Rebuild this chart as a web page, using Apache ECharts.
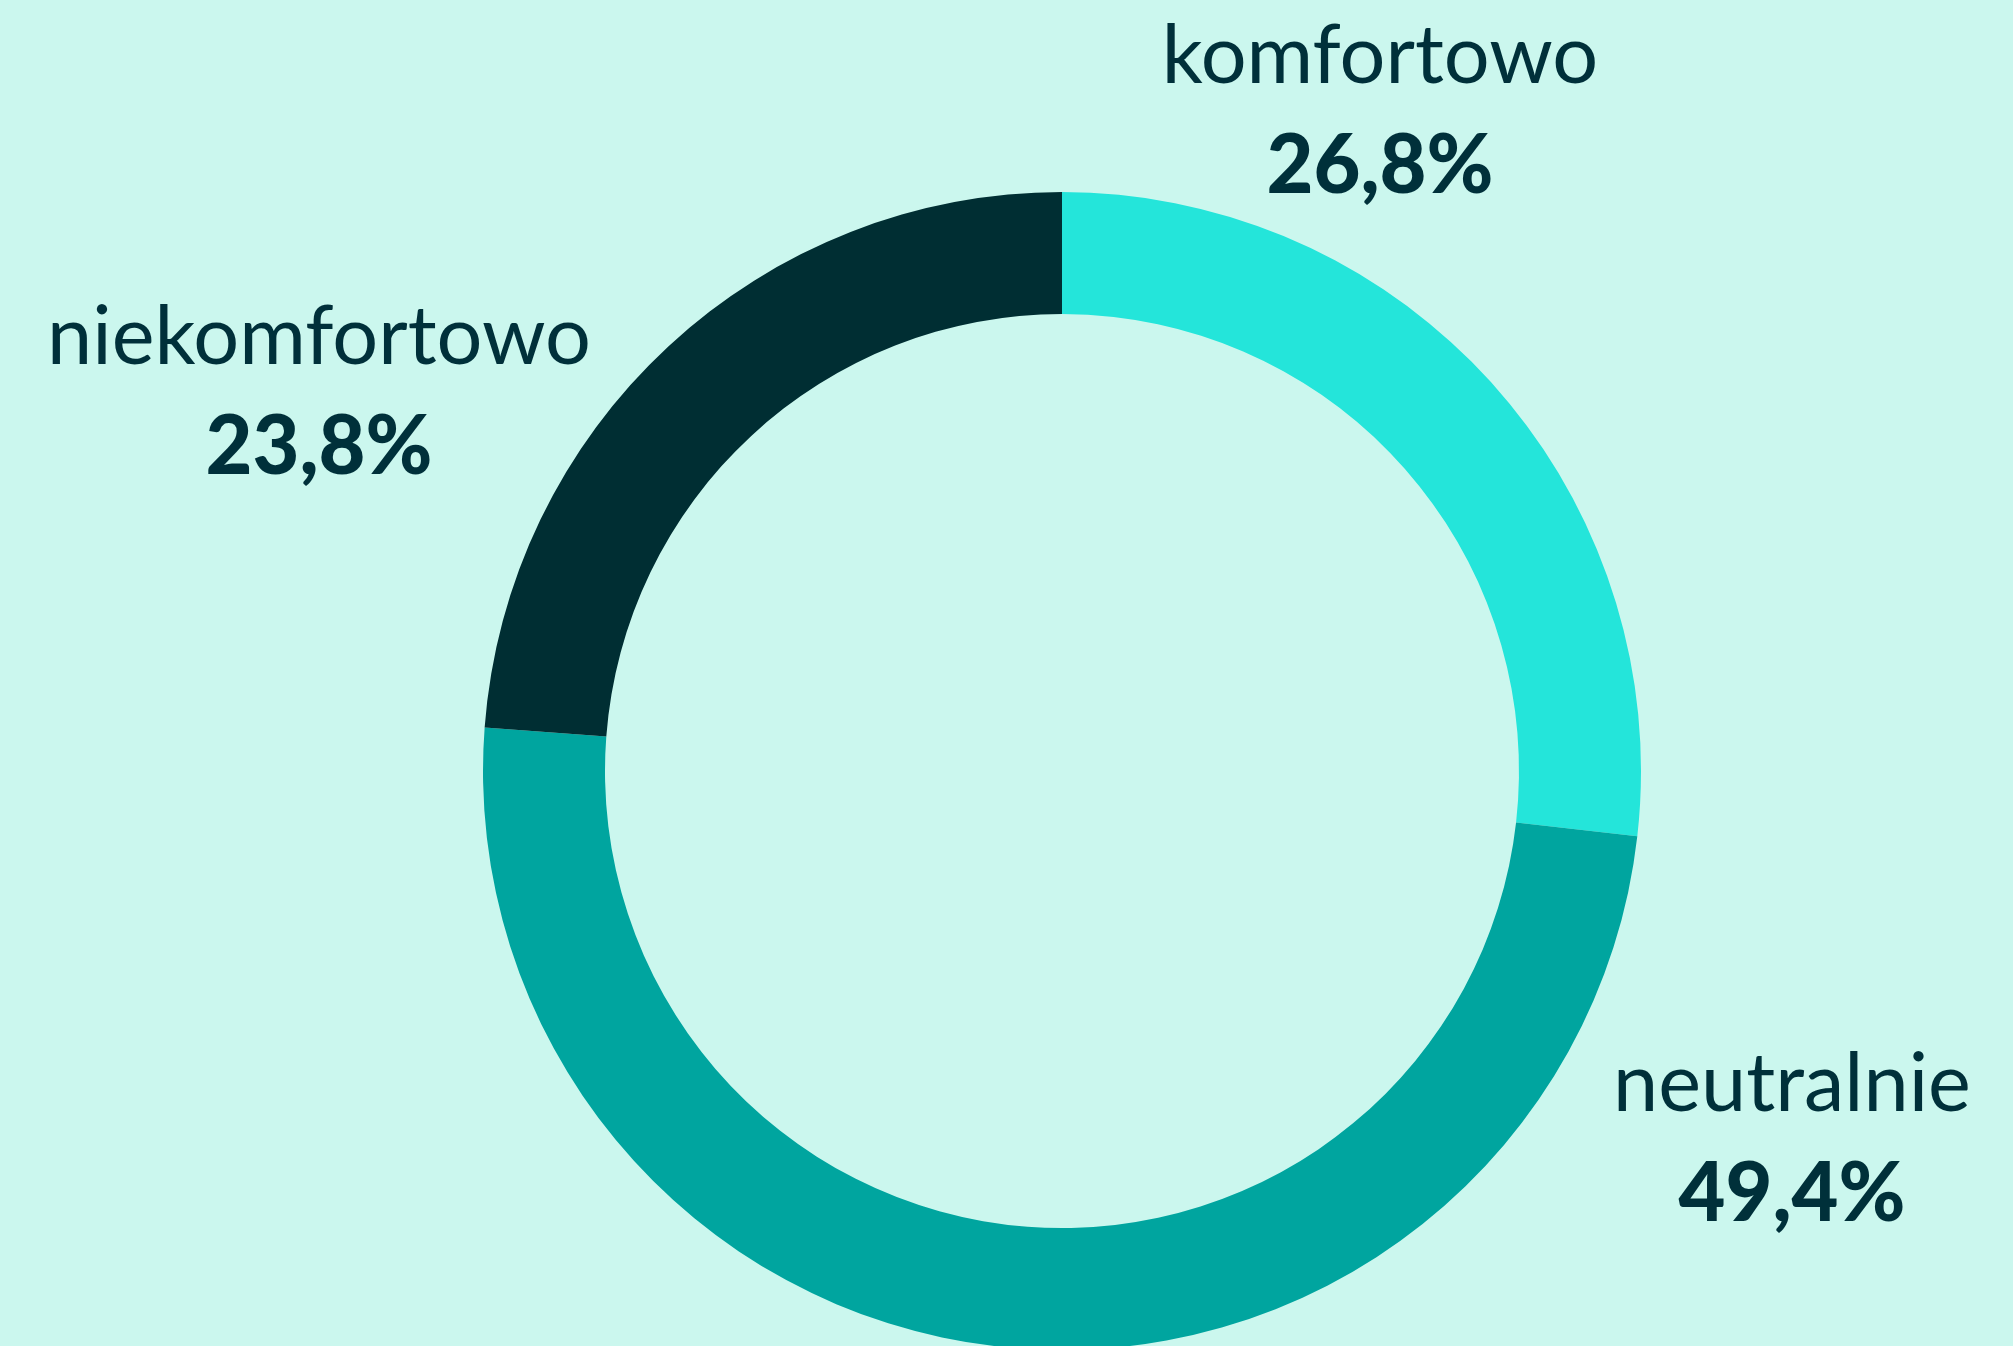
<!DOCTYPE html>
<html>
<head>
<meta charset="utf-8">
<style>
html,body{margin:0;padding:0;background:#CBF7EE;}
#chart{width:2013px;height:1346px;}
</style>
<script src="https://cdn.jsdelivr.net/npm/echarts@6/dist/echarts.min.js"></script>
</head>
<body>
<div id="chart"></div>
<script>
const categories = ['komfortowo', 'neutralnie', 'niekomfortowo'];
const values = [26.8, 49.4, 23.8];
const colors = ['#24E5DA', '#00A59F', '#002E33'];
const labelPos = [[1380, 112], [1792, 1140], [319, 393]];

const chart = echarts.init(document.getElementById('chart'));
chart.setOption({
  backgroundColor: '#CBF7EE',
  animation: false,
  series: [{
    type: 'pie',
    center: [1062, 771],
    radius: [457, 579],
    startAngle: 90,
    clockwise: true,
    silent: true,
    data: categories.map((c, i) => ({ name: c, value: values[i], itemStyle: { color: colors[i] } })),
    label: {
      show: true,
      position: 'outside',
      formatter: p => '{n|' + p.name + '}\n{v|' + p.value.toFixed(1).replace('.', ',') + '%}',
      rich: {
        n: { fontFamily: 'Lato', fontSize: 81, fontWeight: 400, color: '#00303A', lineHeight: 110, align: 'center' },
        v: { fontFamily: 'Lato', fontSize: 81, fontWeight: 900, color: '#00303A', lineHeight: 110, align: 'center' }
      }
    },
    labelLine: { show: false },
    labelLayout: p => ({ x: labelPos[p.dataIndex][0], y: labelPos[p.dataIndex][1], align: 'center', verticalAlign: 'middle' })
  }]
});
</script>
</body>
</html>
